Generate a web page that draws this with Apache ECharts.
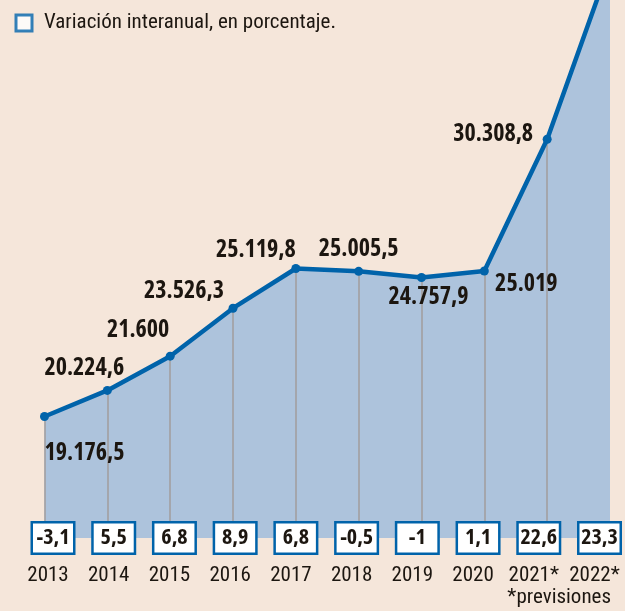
<!DOCTYPE html>
<html>
<head>
<meta charset="utf-8">
<script src="https://cdn.jsdelivr.net/npm/echarts@6/dist/echarts.min.js"></script>
<style>
html,body{margin:0;padding:0;background:#f5e6da;}
#c{width:625px;height:611px;}
</style>
</head>
<body>
<div id="c"></div>
<script>
// ---- data ----
const years = ['2013','2014','2015','2016','2017','2018','2019','2020','2021*','2022*'];
const values = [19176.5, 20224.6, 21600, 23526.3, 25119.8, 25005.5, 24757.9, 25019, 30308.8, 37370.8];
const pctValues = [-3.1, 5.5, 6.8, 8.9, 6.8, -0.5, -1, 1.1, 22.6, 23.3];
const legendText = 'Variación interanual, en porcentaje.';
const noteText = '*previsiones';

// ---- styles ----
const FONT = "'Open Sans', 'DejaVu Sans Condensed', sans-serif";
const FONT_REG = "Roboto, 'Open Sans', sans-serif";
const STRETCH = 'condensed';
const BLUE = '#0063aa';
const AREA = '#adc3dc';
const TEXT = '#1c1610';
const GREY = '#a29d9c';
const yMin = 14300, yMax = 35900;
const labelOffsets = [[40,37],[-23,-22],[-32,-26],[-49,-17],[-40,-18],[0,-22],[7,20],[42,13],[-54,-5],null];

function fmtEs(v){
  const neg = v < 0; v = Math.abs(v);
  let s = String(v);
  let [ip, dp] = s.split('.');
  ip = ip.replace(/\B(?=(\d{3})+(?!\d))/g, '.');
  return (neg?'-':'') + ip + (dp ? ',' + dp : '');
}

const chart = echarts.init(document.getElementById('c'), null, {renderer:'canvas'});
const lineData = values.map((v,i)=>{
  const off = labelOffsets[i];
  return {
    value: v,
    label: off ? {show:true, position:'inside', offset:off} : {show:false}
  };
});

const option = {
  backgroundColor: '#f5e6da',
  animation: false,
  legend: {
    left: 14.5, top: 12.5, padding: 0,
    itemWidth: 16, itemHeight: 16,
    data: [{name: legendText, icon: 'rect', itemStyle: {color:'#fff', borderColor: BLUE, borderWidth: 3}}],
    textStyle: {fontSize: 21, fontStyle: STRETCH, color: TEXT, fontFamily: FONT_REG, padding:[0,0,0,7]}
  },
  title: {
    text: noteText, right: 14, top: 587, padding: 0,
    textStyle: {fontSize: 21, fontStyle: STRETCH, fontWeight: 'normal', color: TEXT, fontFamily: FONT_REG}
  },
  grid: [
    {left: 44.5, right: 15, top: 0, bottom: 73},
    {left: 53, right: 22, top: 0, bottom: 73}
  ],
  xAxis: [
    {type:'category', gridIndex:0, data: years, boundaryGap:false,
     axisLine:{show:false}, axisTick:{show:false}, axisLabel:{show:false}, splitLine:{show:false}},
    {type:'category', gridIndex:1, data: years, boundaryGap:false, position:'bottom', z: 10,
     axisLine:{show:false}, axisTick:{show:false}, splitLine:{show:false},
     axisLabel:{
       interval:0, margin:0, verticalAlign:'middle',
       formatter:(v, i)=>fmtEs(pctValues[i]),
       fontSize:22, fontStyle: STRETCH, fontWeight:'bold', color: TEXT, fontFamily: FONT,
       backgroundColor:'#fff', borderColor: BLUE, borderWidth: 2.5,
       width: 40, height: 29, lineHeight: 29, align:'center'
     }},
    {type:'category', gridIndex:1, data: years, boundaryGap:false, position:'bottom',
     axisLine:{show:false}, axisTick:{show:false}, splitLine:{show:false},
     axisLabel:{
       interval:0, margin:38, verticalAlign:'middle',
       fontSize:21, fontStyle: STRETCH, color: TEXT, fontFamily: FONT_REG, padding:[0,10,0,0]
     }}
  ],
  yAxis: [
    {type:'value', gridIndex:0, min:yMin, max:yMax, show:false, splitLine:{show:false}},
    {type:'value', gridIndex:1, min:-10, max:30, show:false, splitLine:{show:false}}
  ],
  series: [
    {
      type:'line', xAxisIndex:0, yAxisIndex:0, data: values, z:1, silent:true,
      symbol:'none', lineStyle:{width:0}, areaStyle:{color: AREA, opacity:1}
    },
    {
      type:'line', xAxisIndex:0, yAxisIndex:0, data: values, z:2, silent:true,
      symbol:'none', lineStyle:{width:0, opacity:0},
      markLine:{
        silent:true, z:2, symbol:['none','none'], label:{show:false},
        lineStyle:{color: GREY, width:1.5, type:'solid'},
        data: values.slice(0, -1).map((v,i)=>[{coord:[years[i], v]},{coord:[years[i], yMin]}])
      }
    },
    {
      type:'line', xAxisIndex:0, yAxisIndex:0, data: lineData, z:3,
      symbol:'circle', symbolSize:9, showSymbol:true,
      itemStyle:{color: BLUE},
      lineStyle:{color: BLUE, width:4.5},
      label:{
        show:true, position:'inside', align:'center', verticalAlign:'middle',
        formatter:(p)=>fmtEs(p.value),
        fontSize:24, fontStyle: STRETCH, fontWeight:'bold', color: TEXT, fontFamily: FONT
      }
    },
    {
      name: legendText, type:'scatter', xAxisIndex:1, yAxisIndex:1,
      data: pctValues, symbolSize:0, silent:true,
      itemStyle:{color:'#fff', borderColor: BLUE, borderWidth:3}
    }
  ]
};
chart.setOption(option);
</script>
</body>
</html>
